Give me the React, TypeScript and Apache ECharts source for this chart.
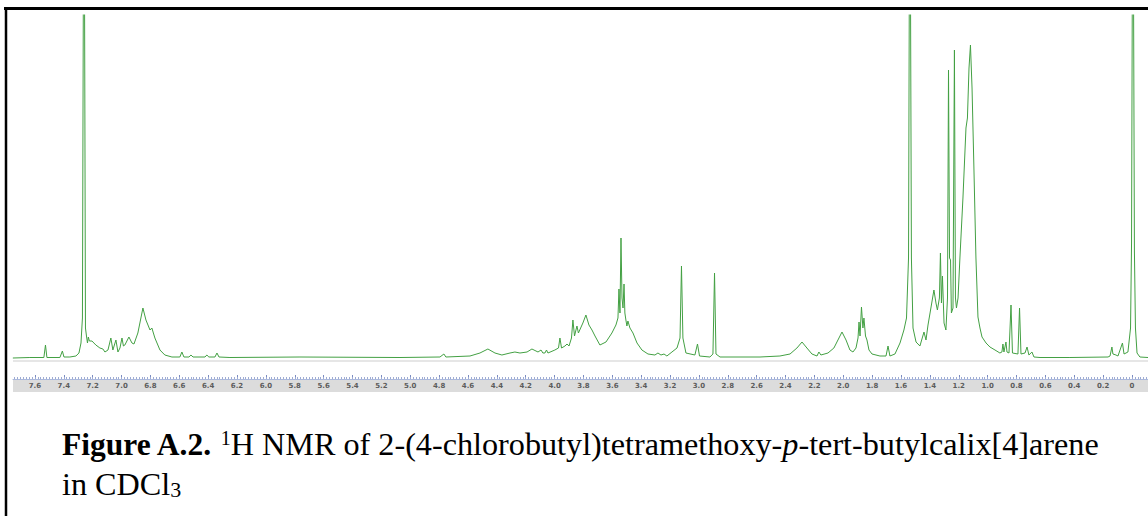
import React, { useEffect, useRef } from "react";
import * as echarts from "echarts";

// 1H NMR trace, [chemical shift (ppm), intensity (a.u.)], split by region
const aromaticRegion: [number, number][] = [
  [7.753, 0], [7.635, 0.5], [7.538, 0.5], [7.527, 13], [7.517, 0.5], [7.427, 0.5], [7.41, 7], [7.399, 1],
  [7.358, 1], [7.316, 2], [7.295, 5], [7.281, 15], [7.271, 40], [7.264, 400], [7.257, 400], [7.25, 30],
  [7.243, 22], [7.236, 15], [7.23, 21], [7.223, 17], [7.205, 17], [7.178, 13], [7.15, 10], [7.129, 9],
  [7.115, 6], [7.094, 8], [7.074, 20], [7.06, 8], [7.039, 18], [7.025, 6], [7.011, 10], [6.997, 20],
  [6.987, 12], [6.977, 13], [6.949, 21], [6.928, 15], [6.914, 14], [6.887, 25], [6.866, 40], [6.852, 50],
  [6.831, 38], [6.803, 28], [6.79, 30], [6.769, 20], [6.734, 8], [6.7, 3], [6.651, 1], [6.596, 1],
  [6.582, 6], [6.568, 1], [6.533, 1], [6.519, 3], [6.505, 1], [6.422, 1], [6.409, 3], [6.395, 1],
  [6.353, 1], [6.339, 5], [6.325, 1], [6.249, 0.5],
];

const midRegion: [number, number][] = [
  [5.764, 1], [5.071, 0.5], [4.794, 1], [4.767, 4], [4.753, 1], [4.586, 2], [4.517, 5], [4.462, 9],
  [4.413, 5], [4.365, 3], [4.309, 5], [4.275, 6], [4.24, 5], [4.191, 6], [4.157, 9], [4.115, 6],
];

const methoxyRegion: [number, number][] = [
  [4.094, 8], [4.081, 5], [4.067, 5], [4.056, 8], [4.046, 5], [3.998, 8], [3.973, 10], [3.963, 20],
  [3.952, 10], [3.928, 12], [3.914, 14], [3.9, 12], [3.883, 20], [3.873, 38], [3.862, 22], [3.852, 28],
  [3.845, 32], [3.835, 25], [3.804, 35], [3.783, 43], [3.762, 33], [3.741, 28], [3.72, 22], [3.686, 13],
  [3.644, 16], [3.603, 25], [3.575, 33], [3.561, 40], [3.554, 69], [3.547, 45], [3.54, 120], [3.533, 60],
  [3.526, 50], [3.519, 74], [3.513, 45], [3.506, 38], [3.499, 32], [3.492, 37], [3.478, 30], [3.457, 25],
  [3.429, 15], [3.395, 8], [3.353, 4], [3.305, 3], [3.284, 5], [3.263, 3], [3.242, 4], [3.222, 2],
  [3.187, 6], [3.152, 10], [3.131, 20], [3.121, 92], [3.111, 20], [3.09, 5], [3.028, 3], [3.01, 14],
  [2.996, 2], [2.924, 1], [2.903, 4], [2.892, 85], [2.882, 4], [2.854, 1], [2.577, 1],
];

const aliphaticRegion: [number, number][] = [
  [2.439, 2], [2.369, 4], [2.321, 10], [2.286, 16], [2.252, 10], [2.217, 4], [2.182, 2], [2.169, 6],
  [2.155, 3], [2.106, 5], [2.065, 10], [2.037, 18], [2.009, 26], [1.981, 18], [1.954, 8], [1.933, 6],
  [1.912, 10], [1.898, 20], [1.891, 36], [1.884, 22], [1.874, 51], [1.864, 30], [1.857, 40], [1.846, 22],
  [1.836, 18], [1.822, 8], [1.801, 4], [1.746, 2], [1.704, 2], [1.69, 12], [1.677, 2], [1.642, 4],
  [1.607, 15], [1.58, 28], [1.562, 40], [1.548, 100], [1.542, 400], [1.535, 400], [1.528, 100], [1.517, 30],
  [1.496, 16], [1.469, 12], [1.441, 26], [1.427, 18], [1.413, 33], [1.393, 50], [1.372, 68], [1.358, 55],
  [1.348, 48], [1.334, 60], [1.327, 105], [1.32, 55], [1.313, 82], [1.302, 35], [1.289, 28], [1.278, 60],
  [1.271, 288], [1.264, 100], [1.257, 98], [1.251, 45], [1.24, 50], [1.23, 308], [1.223, 60], [1.216, 50],
  [1.205, 60], [1.192, 100], [1.171, 160], [1.15, 230], [1.14, 240], [1.129, 290], [1.119, 313], [1.108, 270],
  [1.095, 190], [1.081, 100], [1.067, 41], [1.053, 30], [1.039, 21], [1.011, 15], [0.984, 11], [0.949, 8],
  [0.915, 5], [0.901, 6], [0.894, 14], [0.887, 6], [0.873, 16], [0.866, 6], [0.852, 5], [0.838, 53],
  [0.828, 5], [0.79, 4], [0.779, 50], [0.769, 4], [0.741, 5], [0.727, 11], [0.714, 3], [0.693, 6],
  [0.679, 1], [0.637, 0.5], [0.43, 0.5], [0.166, 1], [0.152, 2], [0.139, 11], [0.132, 4], [0.111, 3],
  [0.097, 2], [0.066, 15], [0.055, 4], [0.028, 6], [0.01, 30], [0.003, 115], [-0.003, 400], [-0.01, 400],
  [-0.017, 106], [-0.024, 30], [-0.035, 5], [-0.055, 1], [-0.111, 0.5],
];

// Labelled chemical-shift ticks (ppm)
const shiftLabels: number[] = [
  7.6, 7.4, 7.2, 7.0, 6.8, 6.6, 6.4, 6.2, 6.0, 5.8, 5.6, 5.4, 5.2, 5.0, 4.8, 4.6, 4.4, 4.2, 4.0,
  3.8, 3.6, 3.4, 3.2, 3.0, 2.8, 2.6, 2.4, 2.2, 2.0, 1.8, 1.6, 1.4, 1.2, 1.0, 0.8, 0.6, 0.4, 0.2, 0,
];

const captionLine1 =
  "{b|Figure A.2.}{r| }{sup|1}{r|H NMR of 2-(4-chlorobutyl)tetramethoxy-}{i|p}{r|-tert-butylcalix[4]arene}";
const captionLine2 = "{r|in CDCl}{sub|3}";

const SHIFT_MIN = -0.111;
const SHIFT_MAX = 7.752;

export default function App() {
  const ref = useRef<HTMLDivElement>(null);

  useEffect(() => {
    if (!ref.current) return;
    const chart = echarts.init(ref.current, null, { renderer: "svg" });
    const spectrum = [...aromaticRegion, ...midRegion, ...methoxyRegion, ...aliphaticRegion];

    // ruler subdivisions every 0.02 ppm
    const minorTicks: number[] = [];
    for (let i = -5; i <= 387; i++) minorTicks.push(Number((i * 0.02).toFixed(2)));

    const serif = "'Liberation Serif', 'Times New Roman', serif";
    const rich = {
      b: { fontFamily: serif, fontSize: 31.5, fontWeight: "bold", fill: "#000" },
      r: { fontFamily: serif, fontSize: 32.2, fill: "#000" },
      i: { fontFamily: serif, fontSize: 32.2, fontStyle: "italic", fill: "#000" },
      sup: { fontFamily: serif, fontSize: 20, fill: "#000", verticalAlign: "top" },
      sub: { fontFamily: serif, fontSize: 22, fill: "#000", verticalAlign: "bottom" },
    };

    chart.setOption({
      animation: false,
      backgroundColor: "#ffffff",
      grid: { left: 13, right: 0, top: 15, bottom: 137 },
      xAxis: [
        {
          type: "value",
          position: "bottom",
          inverse: true,
          min: SHIFT_MIN,
          max: SHIFT_MAX,
          axisLine: { show: true, onZero: false, lineStyle: { color: "#aab8dc", width: 1 } },
          axisTick: { show: true, inside: true, length: 4, customValues: shiftLabels, lineStyle: { color: "#7b8cc2" } },
          axisLabel: {
            show: true,
            customValues: shiftLabels,
            formatter: (v: number) => (v === 0 ? "0" : v.toFixed(1)),
            fontSize: 7,
            fontWeight: "bold",
            color: "#5c5c5c",
            margin: 3,
            fontFamily: "'DejaVu Sans', sans-serif",
          },
          splitLine: { show: false },
        },
        {
          type: "value",
          position: "bottom",
          inverse: true,
          min: SHIFT_MIN,
          max: SHIFT_MAX,
          axisLine: { show: false, onZero: false },
          axisTick: { show: true, inside: true, length: 2, customValues: minorTicks, lineStyle: { color: "#9eabd3" } },
          axisLabel: { show: false },
          splitLine: { show: false },
        },
      ],
      yAxis: { type: "value", min: -21, max: 343, show: false },
      series: [
        {
          type: "line",
          xAxisIndex: 0,
          data: spectrum,
          showSymbol: false,
          symbol: "none",
          clip: true,
          silent: true,
          lineStyle: { color: "#43a043", width: 1 },
          markLine: {
            silent: true,
            symbol: "none",
            label: { show: false },
            lineStyle: { color: "#e6e6e6", width: 2, type: "solid" },
            data: [{ yAxis: -2.5 }],
          },
        },
      ],
      graphic: [
        { type: "rect", z: -100, shape: { x: 13, y: 380, width: 1135, height: 12 }, style: { fill: "#dcdcdc" } },
        { type: "line", shape: { x1: 4, y1: 8.5, x2: 1148, y2: 8.5 }, style: { stroke: "#000", lineWidth: 3 } },
        { type: "line", shape: { x1: 6, y1: 7, x2: 6, y2: 516 }, style: { stroke: "#000", lineWidth: 2.5 } },
        {
          type: "text",
          x: 62,
          y: 428,
          style: { text: captionLine1, rich, fontFamily: serif, fontSize: 32, fill: "#000", verticalAlign: "top" },
        },
        {
          type: "text",
          x: 62,
          y: 468,
          style: { text: captionLine2, rich, fontFamily: serif, fontSize: 32, fill: "#000", verticalAlign: "top" },
        },
      ],
    });

    return () => chart.dispose();
  }, []);

  return (
    <div
      ref={ref}
      style={{ position: "fixed", left: 0, top: 0, width: 1148, height: 516, background: "#fff" }}
    />
  );
}
